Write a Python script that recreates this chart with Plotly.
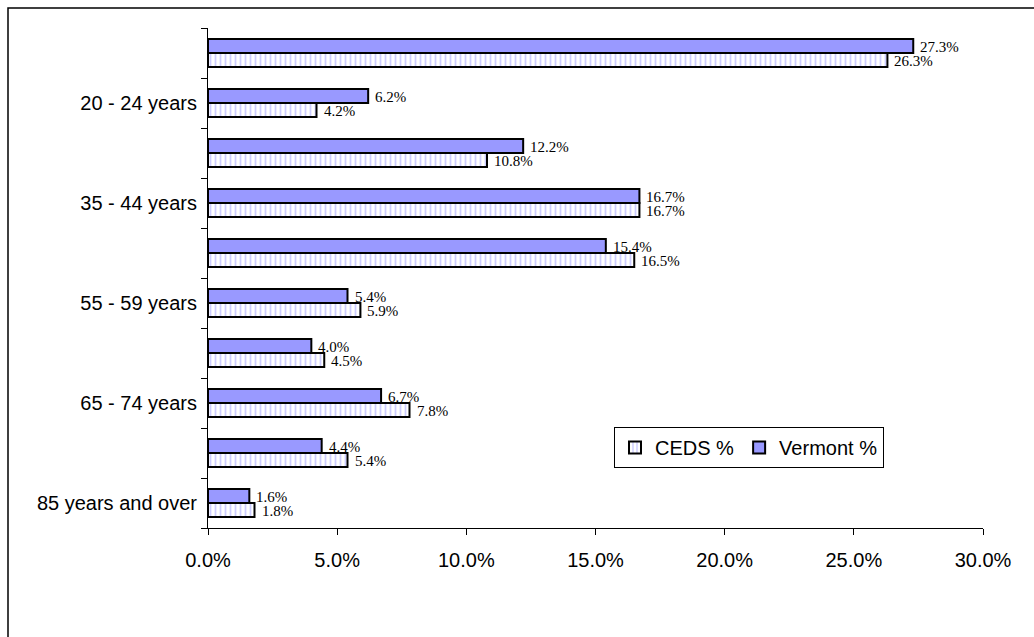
import plotly.graph_objects as go

# Age groups (top to bottom) and share of each population
age_groups = [
    "Under 20 years", "20 - 24 years", "25 - 34 years", "35 - 44 years",
    "45 - 54 years", "55 - 59 years", "60 - 64 years", "65 - 74 years",
    "75 - 84 years", "85 years and over",
]
vermont_pct = [27.3, 6.2, 12.2, 16.7, 15.4, 5.4, 4.0, 6.7, 4.4, 1.6]
ceds_pct = [26.3, 4.2, 10.8, 16.7, 16.5, 5.9, 4.5, 7.8, 5.4, 1.8]

# Only every other age group gets a visible axis label
shown_labels = [g if i % 2 == 1 else "" for i, g in enumerate(age_groups)]
x_ticks = [0, 5, 10, 15, 20, 25, 30]

W, H = 1034, 637
L, R, T, B = 208, 51, 28, 109
pw, ph = W - L - R, H - T - B

label_font = dict(family="Liberation Serif, Times New Roman, serif", size=15, color="black")

fig = go.Figure()
fig.add_trace(go.Bar(
    y=age_groups, x=vermont_pct, orientation="h", name="Vermont %",
    marker=dict(color="#9999FF", line=dict(color="black", width=2)),
))
fig.add_trace(go.Bar(
    y=age_groups, x=ceds_pct, orientation="h", name="CEDS %",
    marker=dict(
        color="white", line=dict(color="black", width=2),
        pattern=dict(shape="|", fgcolor="#9999FF", bgcolor="white",
                     size=5, solidity=0.35),
    ),
))

# Value labels to the right of each bar end
for series, shift in ((vermont_pct, 6.5), (ceds_pct, -7.5)):
    for cat, val in zip(age_groups, series):
        fig.add_annotation(
            x=val, y=cat, xref="x", yref="y", text=f"{val:.1f}%",
            showarrow=False, xanchor="left", yanchor="middle",
            xshift=5, yshift=shift, font=label_font,
        )

# Outer frame (top and left edges visible, rest runs off the canvas)
fig.add_shape(
    type="rect", xref="paper", yref="paper",
    x0=(8 - L) / pw, x1=(W + 20 - L) / pw,
    y0=(H - B - (H + 20)) / ph, y1=(H - B - 8) / ph,
    line=dict(color="black", width=1.5), fillcolor="rgba(0,0,0,0)", layer="below",
)

fig.update_layout(
    width=W, height=H,
    margin=dict(l=L, r=R, t=T, b=B, autoexpand=False),
    paper_bgcolor="white", plot_bgcolor="white",
    barmode="group", bargap=0.44, bargroupgap=0,
    font=dict(family="Liberation Sans, Arial, sans-serif", size=20, color="black"),
    showlegend=True,
    legend=dict(
        orientation="h", traceorder="reversed",
        x=(614 - L) / pw, y=(H - B - 427) / ph, xanchor="left", yanchor="top",
        bordercolor="black", borderwidth=1, bgcolor="white",
        font=dict(family="Liberation Sans, Arial, sans-serif", size=20),
        itemwidth=30,
    ),
    xaxis=dict(
        range=[0, 30], tickvals=x_ticks, ticktext=[f"{v:.1f}%" for v in x_ticks],
        showgrid=False, zeroline=False, showline=True, linecolor="black", linewidth=1,
        ticks="outside", ticklen=6, tickcolor="black", ticklabelstandoff=8,
        tickfont=dict(size=20),
    ),
    yaxis=dict(
        type="category", autorange="reversed",
        tickvals=age_groups, ticktext=shown_labels, tickson="boundaries",
        showgrid=False, showline=True, linecolor="black", linewidth=1,
        ticks="outside", ticklen=6, tickcolor="black", ticklabelstandoff=6,
        tickfont=dict(size=20),
    ),
)

fig.write_html("out.html")
